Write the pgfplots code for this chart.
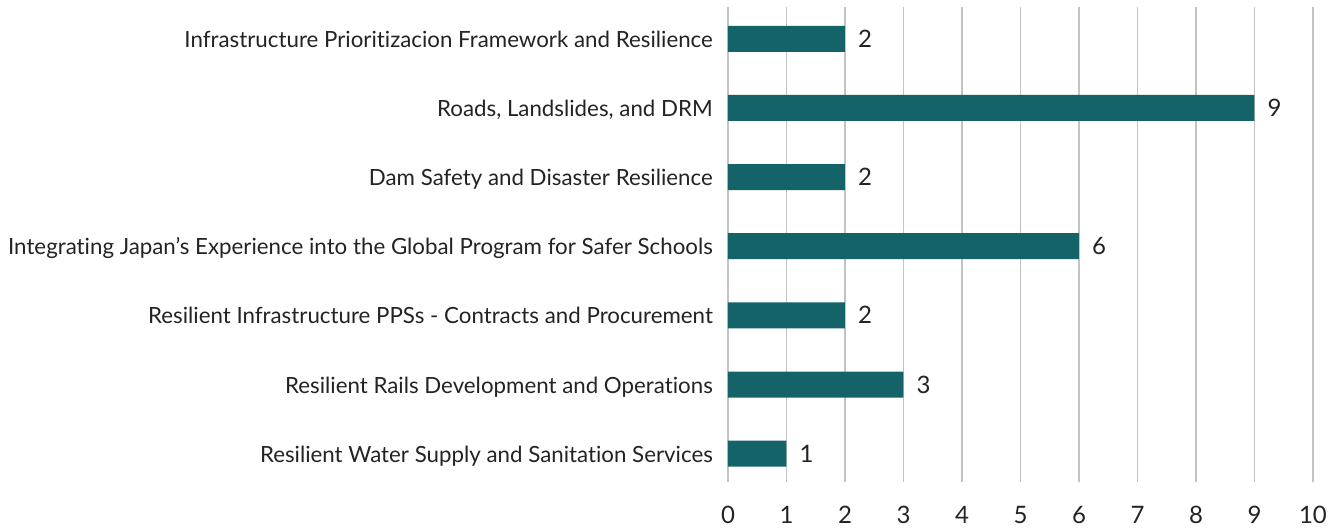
\documentclass[border=0pt]{standalone}
\usepackage{pgfplots}
\pgfplotsset{compat=1.18}
\usepackage{fontspec}
\setmainfont{Lato}[Ligatures={NoCommon}]
\definecolor{barteal}{RGB}{20,99,104}
\definecolor{gridgray}{RGB}{195,195,195}
\definecolor{txt}{RGB}{35,35,35}
\begin{document}
\begin{tikzpicture}[x=1pt,y=1pt]
\begin{axis}[
  name=ax,
  at={(0,0)}, anchor=south west,
  scale only axis,
  width=585pt, height=475pt,
  xmin=0, xmax=10,
  ymin=-0.41, ymax=6.46,
  xtick={0,1,...,10},
  ytick={0,1,2,3,4,5,6},
  yticklabels={
    Resilient Water Supply and Sanitation Services,
    Resilient Rails Development and Operations,
    Resilient Infrastructure PPSs - Contracts and Procurement,
    Integrating Japan’s Experience into the Global Program for Safer Schools,
    Dam Safety and Disaster Resilience,
    {Roads, Landslides, and DRM},
    Infrastructure Prioritizacion Framework and Resilience},
  axis line style={draw=none},
  major tick length=0pt,
  xmajorgrids=true,
  grid style={gridgray, line width=1.2pt},
  /pgf/number format/assume math mode=true,
  yticklabel style={font=\fontsize{22.3}{24}\selectfont, text=txt, inner sep=0pt, anchor=base east, xshift=-15pt, yshift=-8.5pt},
  xticklabel style={font=\fontsize{24}{26}\selectfont, text=txt, inner sep=0pt, anchor=base, yshift=-42pt},
  xbar,
  bar width=26pt,
  nodes near coords,
  nodes near coords style={font=\fontsize{24}{26}\selectfont, text=txt, inner sep=0pt, anchor=base west, xshift=13pt, yshift=-8.5pt},
  clip=false,
]
\addplot[fill=barteal, draw=none] coordinates {
  (1,0) (3,1) (2,2) (6,3) (2,4) (9,5) (2,6)
};
\end{axis}
\path[draw=none] (-728,-47) rectangle (613,482);
\end{tikzpicture}
\end{document}
